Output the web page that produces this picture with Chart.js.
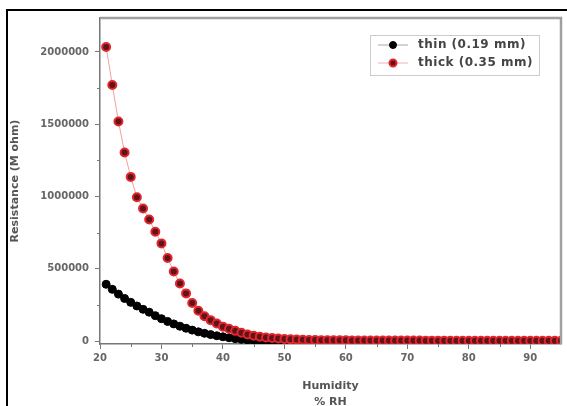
<!DOCTYPE html>
<html>
<head>
<meta charset="utf-8">
<script src="https://cdn.jsdelivr.net/npm/chart.js@4.4.1/dist/chart.umd.min.js"></script>
<style>
  body { margin: 0; background: #fff; }
  #wrap { width: 567px; height: 406px; }
</style>
</head>
<body>
<div id="wrap"><canvas id="graph" width="567" height="406"></canvas></div>
<script>
// Данные
const humidity = [21, 22, 23, 24, 25, 26, 27, 28, 29, 30, 31, 32, 33, 34, 35, 36, 37, 38, 39, 40,
  41, 42, 43, 44, 45, 46, 47, 48, 49, 50, 51, 52, 53, 54, 55, 56, 57, 58, 59, 60,
  61, 62, 63, 64, 65, 66, 67, 68, 69, 70, 71, 72, 73, 74, 75, 76, 77, 78, 79, 80,
  81, 82, 83, 84, 85, 86, 87, 88, 89, 90, 91, 92, 93, 94, 95];

const thinData = [393000, 358000, 325000, 295000, 268000, 243000, 220000, 200000, 176000, 155000,
  136000, 119000, 103000, 89000, 76000, 64000, 54000, 45000, 37000, 30000,
  23000, 17000, 12000, 8000, 5000, 3000, 2000, 1200, 900, 800, 750, 700, 650, 600, 580, 560, 540, 520, 500, 480,
  470, 460, 450, 440, 430, 420, 410, 400, 395, 390, 385, 380, 375, 370, 365, 360, 355, 350, 345, 340,
  335, 330, 325, 320, 315, 310, 305, 300, 300, 300, 300, 300, 300, 300, 300];

const thickData = [2035000, 1772000, 1519000, 1305000, 1136000, 995000, 917000, 841000, 756000, 676000,
  575000, 481000, 398000, 330000, 264000, 210000, 172000, 145000, 122000, 100000,
  85000, 71000, 58000, 46000, 37000, 30000, 25000, 21000, 17500, 14500, 12000, 10500, 9200, 8200, 7400, 6800, 6300, 5900, 5500, 5200,
  4900, 4700, 4500, 4300, 4200, 4000, 3900, 3800, 3700, 3600, 3500, 3400, 3300, 3250, 3200, 3100, 3050, 3000, 2950, 2900,
  2850, 2800, 2750, 2700, 2650, 2600, 2580, 2550, 2500, 2480, 2450, 2420, 2400, 2380, 2350];

const xTicks = [20, 30, 40, 50, 60, 70, 80, 90];
const xMinorTicks = [25, 35, 45, 55, 65, 75, 85];
const yTicks = [0, 500000, 1000000, 1500000, 2000000];
const yMinorTicks = [250000, 750000, 1250000, 1750000];

const seriesLabels = ['thin (0.19 mm)', 'thick (0.35 mm)'];

Chart.defaults.font.family = 'DejaVu Sans';

const toPoints = (xs, ys) => xs.map((x, i) => ({ x: x, y: ys[i] }));

// Рамки, мелкие засечки и легенда
const decorations = {
  id: 'decorations',
  beforeDraw(chart) {
    const c = chart.ctx;
    c.save();
    c.fillStyle = '#fff';
    c.fillRect(0, 0, chart.width, chart.height);
    c.strokeStyle = '#000';
    c.lineWidth = 2;
    c.strokeRect(7, 10, 600, 450);
    c.restore();
  },
  afterDraw(chart) {
    const c = chart.ctx;
    const a = chart.chartArea;
    const xs = chart.scales.x;
    const ys = chart.scales.y;
    c.save();
    c.strokeStyle = '#a0a0a0';
    c.lineWidth = 2.5;
    c.beginPath();
    c.moveTo(a.left, a.top);
    c.lineTo(a.right, a.top);
    c.lineTo(a.right, a.bottom);
    c.stroke();

    c.strokeStyle = '#777';
    c.lineWidth = 1;
    c.beginPath();
    yMinorTicks.forEach(v => {
      const py = Math.round(ys.getPixelForValue(v)) + 0.5;
      c.moveTo(a.left - 3, py);
      c.lineTo(a.left, py);
    });
    xMinorTicks.forEach(v => {
      const px = Math.round(xs.getPixelForValue(v)) + 0.5;
      c.moveTo(px, a.bottom);
      c.lineTo(px, a.bottom + 3);
    });
    c.stroke();

    // легенда
    const lx = 370, ly = 35, lw = 169, lh = 40;
    c.fillStyle = '#fff';
    c.fillRect(lx, ly, lw, lh);
    c.strokeStyle = '#ccc';
    c.lineWidth = 1;
    c.strokeRect(lx + 0.5, ly + 0.5, lw, lh);
    chart.data.datasets.forEach((ds, i) => {
      const rowY = ly + 10 + i * 18;
      c.strokeStyle = ds.legendLine;
      c.lineWidth = 1;
      c.beginPath();
      c.moveTo(378, rowY);
      c.lineTo(408, rowY);
      c.stroke();
      c.beginPath();
      c.arc(393, rowY, 3.5, 0, Math.PI * 2);
      c.fillStyle = ds.pointBackgroundColor;
      c.fill();
      c.lineWidth = ds.pointBorderWidth;
      c.strokeStyle = ds.pointBorderColor;
      c.stroke();
      c.fillStyle = '#444';
      c.font = 'bold 12px "DejaVu Sans"';
      c.letterSpacing = '0.5px';
      c.textBaseline = 'middle';
      c.textAlign = 'left';
      c.fillText(ds.label, 418, rowY);
    });
    c.restore();
  }
};

const ctx = document.getElementById('graph');

new Chart(ctx, {
  type: 'line',
  data: {
    datasets: [
      {
        label: seriesLabels[0],
        data: toPoints(humidity, thinData),
        borderColor: '#000',
        borderWidth: 2,
        pointRadius: 4,
        pointBackgroundColor: '#000',
        pointBorderColor: '#000',
        pointBorderWidth: 1,
        legendLine: '#9ab',
        order: 1
      },
      {
        label: seriesLabels[1],
        data: toPoints(humidity, thickData),
        borderColor: '#f4a0a0',
        borderWidth: 1,
        pointRadius: 4,
        pointBackgroundColor: '#5e1418',
        pointBorderColor: '#e3252d',
        pointBorderWidth: 2,
        legendLine: '#f4b0b0',
        order: 0
      }
    ]
  },
  options: {
    responsive: false,
    animation: false,
    layout: { padding: { top: 18, right: 5, left: 0, bottom: 0 } },
    plugins: {
      legend: { display: false },
      tooltip: { enabled: false }
    },
    scales: {
      x: {
        type: 'linear',
        min: 20,
        max: 95,
        afterBuildTicks: scale => { scale.ticks = xTicks.map(v => ({ value: v })); },
        afterFit: scale => { scale.height = 62; },
        grid: { drawOnChartArea: false, drawTicks: true, tickLength: 5, color: '#777' },
        border: { display: true, color: '#777', width: 1.5 },
        ticks: { color: '#666', font: { size: 10, weight: 'bold' }, padding: 3, callback: v => String(v) },
        title: {
          display: true,
          text: ['Humidity', '% RH'],
          color: '#555',
          font: { size: 11, weight: 'bold', lineHeight: 1.45 },
          padding: { top: 4, bottom: -4 }
        }
      },
      y: {
        min: -20000,
        max: 2235000,
        afterBuildTicks: scale => { scale.ticks = yTicks.map(v => ({ value: v })); },
        afterFit: scale => { scale.width = 100; },
        grid: { drawOnChartArea: false, drawTicks: true, tickLength: 5, color: '#777' },
        border: { display: true, color: '#777', width: 1.5 },
        ticks: { color: '#666', font: { size: 10, weight: 'bold' }, padding: 6, callback: v => String(v) },
        title: {
          display: true,
          text: 'Resistance (M ohm)',
          color: '#555',
          font: { size: 11, weight: 'bold' },
          padding: { top: 9, bottom: 0 }
        }
      }
    }
  },
  plugins: [decorations]
});
</script>
</body>
</html>
